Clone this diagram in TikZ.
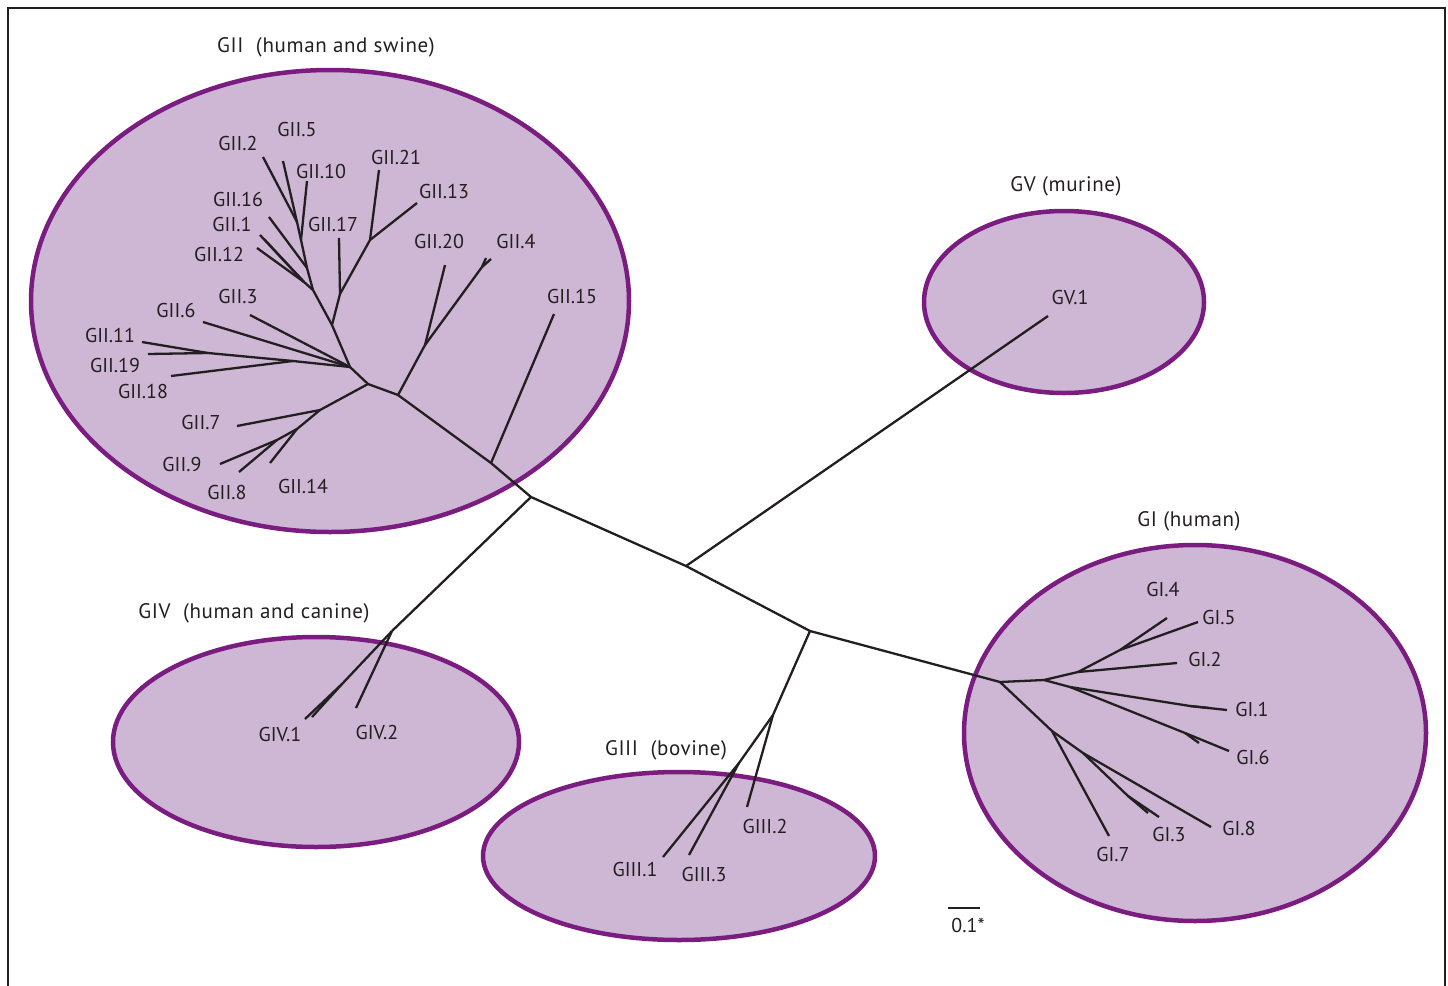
\documentclass[tikz,border=0pt]{standalone}
\usepackage{fontspec}
\setmainfont{PT Sans}
\newfontfamily\groupfont[LetterSpace=3]{PT Sans}
\usetikzlibrary{positioning}

\definecolor{ringpurple}{HTML}{7B1C80}
\definecolor{ringfill}{HTML}{CDB7D4}
\definecolor{inkgrey}{HTML}{231F20}

\tikzset{
  cluster/.style={draw=ringpurple, fill=ringfill, line width=4.5pt},
  branch/.style={draw=inkgrey, line width=2.3pt},
  taxon/.style={font=\fontsize{20}{22}\selectfont, text=inkgrey, inner sep=0pt},
  grouplabel/.style={font=\groupfont\fontsize{21}{23}\selectfont, text=inkgrey, inner sep=0pt},
  frameline/.style={draw=inkgrey, line width=2.8pt}
}

\begin{document}
\begin{tikzpicture}[x=1pt, y=-1pt]

	\useasboundingbox (0,0) rectangle (1448,985);
	\draw[frameline] (8,990) -- (8,8) -- (1445,8) -- (1445,990);

	% clusters
	\draw[cluster] (330,301)  ellipse [x radius=299pt, y radius=231pt];
	\draw[cluster] (1064,302) ellipse [x radius=140pt, y radius=91pt];
	\draw[cluster] (1195,733) ellipse [x radius=231pt, y radius=188pt];
	\draw[cluster] (316,742)  ellipse [x radius=203pt, y radius=105pt];
	\draw[cluster] (679,856)  ellipse [x radius=196pt, y radius=84pt];

	\node[grouplabel] (tGII)  at (326,47)   {GII\ \ (human and swine)};
	\node[grouplabel] (tGV)   at (1066,186) {GV (murine)};
	\node[grouplabel] (tGI)   at (1189,521) {GI (human)};
	\node[grouplabel] (tGIV)  at (254,613)  {GIV\ \ (human and canine)};
	\node[grouplabel] (tGIII) at (666,750)  {GIII\ \ (bovine)};

	% backbone
	\coordinate (root)   at (531,497);
	\coordinate (nGV)    at (686,566);
	\coordinate (nGIII0) at (810,631);
	\coordinate (nGIV)   at (392,631);
	\coordinate (n15)    at (491,463);
	\coordinate (nA)     at (398,395);

	\draw[branch] (nA) -- (n15) -- (root) -- (nGV) -- (nGIII0);
	\draw[branch] (root) -- (nGIV);

	% GV
	\coordinate (eGV1) at (1048,316);
	\node[taxon] (gv1) at (1070,297) {GV.1};
	\draw[branch] (nGV) -- (eGV1);

	% GII
	\coordinate (nB)   at (368,384);
	\coordinate (n204) at (425,345);
	\coordinate (n4)   at (482,267);
	\coordinate (e20)  at (445,265);
	\coordinate (e4a)  at (491,259);
	\coordinate (e4b)  at (486,258);
	\coordinate (e15)  at (554,314);
	\draw[branch] (n15) -- (e15);
	\draw[branch] (nB) -- (nA) -- (n204) -- (e20);
	\draw[branch] (n204) -- (n4) -- (e4a);
	\draw[branch] (n4) -- (e4b);

	\coordinate (nC)  at (320,410);
	\coordinate (nD)  at (297,429);
	\coordinate (n98) at (277,440);
	\coordinate (e7)  at (237,426);
	\coordinate (e9)  at (220,464);
	\coordinate (e8)  at (239,472);
	\coordinate (e14) at (270,463);
	\draw[branch] (nB) -- (nC) -- (e7);
	\draw[branch] (nC) -- (nD) -- (n98) -- (e9);
	\draw[branch] (n98) -- (e8);
	\draw[branch] (nD) -- (e14);

	\coordinate (nE)    at (350,367);
	\coordinate (nF)    at (293,361);
	\coordinate (n1119) at (208,353);
	\coordinate (e3)    at (250,315);
	\coordinate (e6)    at (203,322);
	\coordinate (e11)   at (142,342);
	\coordinate (e19)   at (148,354);
	\coordinate (e18)   at (171,376);
	\draw[branch] (nB) -- (nE) -- (e3);
	\draw[branch] (nE) -- (e6);
	\draw[branch] (nE) -- (nF) -- (n1119) -- (e11);
	\draw[branch] (n1119) -- (e19);
	\draw[branch] (nF) -- (e18);

	\coordinate (nH)   at (332,325);
	\coordinate (nI)   at (313,290);
	\coordinate (nJ)   at (340,294);
	\coordinate (nK)   at (370,240);
	\coordinate (n112) at (304,282);
	\coordinate (nL)   at (307,268);
	\coordinate (nM)   at (301,240);
	\coordinate (nN)   at (297,222);
	\coordinate (e17)  at (339,238);
	\coordinate (e21)  at (379,170);
	\coordinate (e13)  at (417,203);
	\coordinate (e1a)  at (260,235);
	\coordinate (e1b)  at (264,239);
	\coordinate (e12)  at (257,248);
	\coordinate (e16)  at (269,217);
	\coordinate (e10)  at (307,181);
	\coordinate (e2)   at (263,157);
	\coordinate (e5)   at (283,161);
	\draw[branch] (nE) -- (nH) -- (nJ) -- (nK) -- (e21);
	\draw[branch] (nK) -- (e13);
	\draw[branch] (nJ) -- (e17);
	\draw[branch] (nH) -- (nI) -- (nL) -- (nM) -- (nN) -- (e2);
	\draw[branch] (nN) -- (e5);
	\draw[branch] (nM) -- (e10);
	\draw[branch] (nL) -- (e16);
	\draw[branch] (nI) -- (n112) -- (e1a);
	\draw[branch] (n112) -- (e1b);
	\draw[branch] (n112) -- (e12);

	\node[taxon] (gii2)  at (238,143) {GII.2};
	\node[taxon] (gii5)  at (297,129) {GII.5};
	\node[taxon] (gii10) at (321,171) {GII.10};
	\node[taxon] (gii21) at (396,157) {GII.21};
	\node[taxon] (gii13) at (444,191) {GII.13};
	\node[taxon] (gii16) at (238,199) {GII.16};
	\node[taxon] (gii1)  at (232,224) {GII.1};
	\node[taxon] (gii17) at (333,224) {GII.17};
	\node[taxon] (gii12) at (219,254) {GII.12};
	\node[taxon] (gii20) at (439,241) {GII.20};
	\node[taxon] (gii4)  at (516,241) {GII.4};
	\node[taxon] (gii3)  at (238,296) {GII.3};
	\node[taxon] (gii15) at (572,296) {GII.15};
	\node[taxon] (gii6)  at (176,310) {GII.6};
	\node[taxon] (gii11) at (110,335) {GII.11};
	\node[taxon] (gii19) at (115,365) {GII.19};
	\node[taxon] (gii18) at (143,391) {GII.18};
	\node[taxon] (gii7)  at (201,422) {GII.7};
	\node[taxon] (gii9)  at (182,464) {GII.9};
	\node[taxon] (gii8)  at (227,492) {GII.8};
	\node[taxon] (gii14) at (303,486) {GII.14};

	% GIV
	\coordinate (nGIVb) at (342,684);
	\coordinate (eIV1a) at (305,719);
	\coordinate (eIV1b) at (312,717);
	\coordinate (eIV2)  at (356,708);
	\draw[branch] (nGIV) -- (nGIVb) -- (eIV1a);
	\draw[branch] (nGIVb) -- (eIV1b);
	\draw[branch] (nGIV) -- (eIV2);
	\node[taxon] (giv1) at (280,734) {GIV.1};
	\node[taxon] (giv2) at (377,732) {GIV.2};

	% GIII
	\coordinate (nGIII)  at (773,715);
	\coordinate (nGIIIb) at (739,763);
	\coordinate (eIII1)  at (663,857);
	\coordinate (eIII2)  at (747,807);
	\coordinate (eIII3)  at (689,855);
	\draw[branch] (nGIII0) -- (nGIII) -- (eIII2);
	\draw[branch] (nGIII) -- (nGIIIb) -- (eIII1);
	\draw[branch] (nGIIIb) -- (eIII3);
	\node[taxon] (giii1) at (635,869) {GIII.1};
	\node[taxon] (giii3) at (704,874) {GIII.3};
	\node[taxon] (giii2) at (765,826) {GIII.2};

	% GI
	\coordinate (nGI)  at (1000,682);
	\coordinate (nGIa) at (1044,680);
	\coordinate (nGIb) at (1078,672);
	\coordinate (nGIc) at (1120,650);
	\coordinate (nGId) at (1070,687);
	\coordinate (nGIe) at (1052,731);
	\coordinate (nGIf) at (1083,753);
	\coordinate (nGIg) at (1128,796);
	\coordinate (nGIh) at (1190,706);
	\coordinate (nGIi) at (1185,733);
	\coordinate (eI4)  at (1167,618);
	\coordinate (eI5)  at (1198,622);
	\coordinate (eI2)  at (1177,663);
	\coordinate (eI1a) at (1227,710);
	\coordinate (eI1b) at (1209,708);
	\coordinate (eI6a) at (1229,751);
	\coordinate (eI6b) at (1199,743);
	\coordinate (eI7)  at (1109,836);
	\coordinate (eI8)  at (1211,827);
	\coordinate (eI3a) at (1159,817);
	\coordinate (eI3b) at (1148,813);
	\draw[branch] (nGIII0) -- (nGI) -- (nGIa) -- (nGIb) -- (eI2);
	\draw[branch] (nGIb) -- (nGIc) -- (eI4);
	\draw[branch] (nGIc) -- (eI5);
	\draw[branch] (nGIa) -- (nGId) -- (nGIh) -- (eI1a);
	\draw[branch] (nGIh) -- (eI1b);
	\draw[branch] (nGId) -- (nGIi) -- (eI6a);
	\draw[branch] (nGIi) -- (eI6b);
	\draw[branch] (nGI) -- (nGIe) -- (eI7);
	\draw[branch] (nGIe) -- (nGIf) -- (eI8);
	\draw[branch] (nGIf) -- (nGIg) -- (eI3a);
	\draw[branch] (nGIg) -- (eI3b);
	\node[taxon] (gi4) at (1163,589) {GI.4};
	\node[taxon] (gi5) at (1219,617) {GI.5};
	\node[taxon] (gi2) at (1205,659) {GI.2};
	\node[taxon] (gi1) at (1252,709) {GI.1};
	\node[taxon] (gi6) at (1253,757) {GI.6};
	\node[taxon] (gi8) at (1239,828) {GI.8};
	\node[taxon] (gi3) at (1169,834) {GI.3};
	\node[taxon] (gi7) at (1113,854) {GI.7};

	% scale
	\coordinate (barL) at (948,908);
	\coordinate (barR) at (980,908);
	\draw[branch] (barL) -- (barR);
	\node[taxon] (scale) at (968,925) {0.1*};

\end{tikzpicture}
\end{document}
